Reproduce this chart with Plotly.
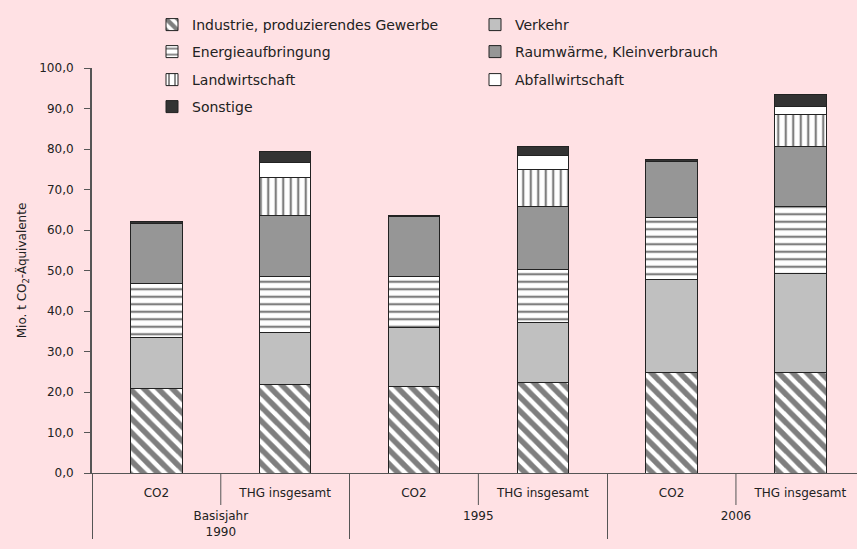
import plotly.graph_objects as go

# Categories (two-level x axis); the group labels start with a spacer line
SP = "<span style='font-size:22px'> </span><br>"
groups = [SP + "Basisjahr<br>1990", SP + "Basisjahr<br>1990", SP + "1995", SP + "1995", SP + "2006", SP + "2006"]
subcats = ["CO2", "THG insgesamt", "CO2", "THG insgesamt", "CO2", "THG insgesamt"]

# Emissions by sector, Mio. t CO2-Äquivalente
industrie = [20.9, 21.9, 21.3, 22.4, 24.8, 24.9]
verkehr = [12.5, 12.8, 14.7, 14.8, 22.9, 24.4]
energie = [13.4, 13.9, 12.6, 13.1, 15.4, 16.5]
raumwaerme = [14.7, 15.1, 14.7, 15.5, 13.8, 14.8]
landwirtschaft = [0.0, 9.3, 0.0, 9.2, 0.0, 8.0]
abfall = [0.0, 3.6, 0.0, 3.3, 0.0, 2.0]
sonstige = [0.5, 2.9, 0.4, 2.4, 0.5, 2.9]

y_ticks = [0, 10, 20, 30, 40, 50, 60, 70, 80, 90, 100]

BG = "#FFE1E4"
FONT = "DejaVu Sans"

series = [
    ("Industrie, produzierendes Gewerbe", industrie,
     dict(color="white", pattern=dict(shape="\\", fgcolor="black", bgcolor="white", size=10, solidity=0.55)),
     "legend"),
    ("Verkehr", verkehr, dict(color="#C0C0C0"), "legend"),
    ("Energieaufbringung", energie,
     dict(color="white", pattern=dict(shape="-", fgcolor="black", bgcolor="white", size=7.5, solidity=0.3)),
     "legend2"),
    ("Raumwärme, Kleinverbrauch", raumwaerme, dict(color="#969696"), "legend2"),
    ("Landwirtschaft", landwirtschaft,
     dict(color="white", pattern=dict(shape="|", fgcolor="black", bgcolor="white", size=7.5, solidity=0.3)),
     "legend3"),
    ("Abfallwirtschaft", abfall, dict(color="white"), "legend3"),
    ("Sonstige", sonstige, dict(color="#333333"), "legend4"),
]

fig = go.Figure()
for name, vals, marker, leg in series:
    marker = dict(marker)
    marker["line"] = dict(color="#222222", width=1)
    fig.add_trace(go.Bar(
        x=[groups, subcats], y=vals, name=name, marker=marker,
        width=0.4, legend=leg,
    ))

legend_common = dict(
    orientation="h", xref="container", yref="container",
    xanchor="left", yanchor="middle", entrywidth=278, entrywidthmode="pixels",
    bgcolor="rgba(0,0,0,0)", font=dict(family=FONT, size=14, color="#222222"),
    traceorder="normal",
)
row_y = [25, 52, 80, 107]
leg_x = 152 / 857
fig.update_layout(
    barmode="stack",
    width=857, height=549,
    paper_bgcolor=BG, plot_bgcolor=BG,
    margin=dict(l=92, r=0, t=68, b=76, autoexpand=False),
    font=dict(family=FONT, size=12, color="#222222"),
    legend=dict(legend_common, x=leg_x, y=1 - row_y[0] / 549),
    legend2=dict(legend_common, x=leg_x, y=1 - row_y[1] / 549),
    legend3=dict(legend_common, x=leg_x, y=1 - row_y[2] / 549),
    legend4=dict(legend_common, x=leg_x, y=1 - row_y[3] / 549),
    yaxis=dict(
        range=[0, 100], tickvals=y_ticks, tickformat=".1f",
        showgrid=False, zeroline=False,
        showline=True, linecolor="#555555", linewidth=2,
        ticks="outside", ticklen=6, tickcolor="#555555",
        ticklabelstandoff=8,
        title=dict(text="Mio. t CO<sub>2</sub>-Äquivalente", font=dict(size=12), standoff=10),
    ),
    xaxis=dict(
        type="multicategory", range=[-0.5, 5.44],
        showgrid=False, showline=True, linecolor="#555555", linewidth=1,
        ticks="", ticklabelstandoff=9,
        showdividers=True, dividercolor="#555555", dividerwidth=1,
        tickfont=dict(size=12),
    ),
    separators=",.",
)

# short separators between the sub-categories inside each group
for b in [0.5, 2.5, 4.5]:
    fig.add_shape(type="line", xref="x", yref="paper", x0=b, x1=b, y0=0, y1=-32 / 405,
                  line=dict(color="#555555", width=1), layer="above")

fig.write_html("out.html")
